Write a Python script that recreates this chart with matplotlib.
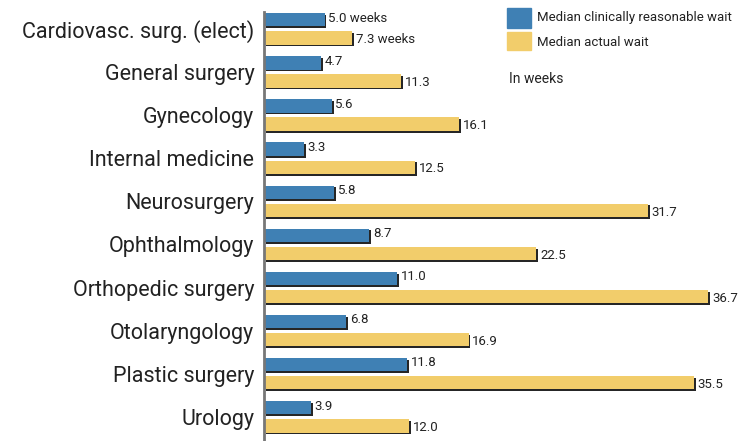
import matplotlib.pyplot as plt
import matplotlib.patheffects as pe
import numpy as np

# data
categories = ["Cardiovasc. surg. (elect)", "General surgery", "Gynecology",
              "Internal medicine", "Neurosurgery", "Ophthalmology",
              "Orthopedic surgery", "Otolaryngology", "Plastic surgery", "Urology"]
reasonable = [5.0, 4.7, 5.6, 3.3, 5.8, 8.7, 11.0, 6.8, 11.8, 3.9]
actual = [7.3, 11.3, 16.1, 12.5, 31.7, 22.5, 36.7, 16.9, 35.5, 12.0]

BLUE = "#3f80b4"
YELLOW = "#f2cd6b"
TXT = "#222222"
FONT = ["Roboto", "DejaVu Sans"]

fig = plt.figure(figsize=(7.46, 4.41), dpi=100)
ax = fig.add_axes([264 / 746, 0, 1 - 264 / 746, 1 - 12 / 441])

y = np.arange(len(categories))
off = 0.21
h = 0.31
shadow = [pe.SimplePatchShadow(offset=(1.3, -1.3), shadow_rgbFace="black", alpha=0.85), pe.Normal()]

ax.barh(y - off, reasonable, height=h, color=BLUE, path_effects=shadow)
ax.barh(y + off, actual, height=h, color=YELLOW, path_effects=shadow)

for i in range(len(categories)):
    s1 = f"{reasonable[i]:.1f}" + (" weeks" if i == 0 else "")
    s2 = f"{actual[i]:.1f}" + (" weeks" if i == 0 else "")
    ax.text(reasonable[i] + 0.3, y[i] - off - 0.04, s1, va="center", ha="left",
            fontsize=9.5, family=FONT, color=TXT)
    ax.text(actual[i] + 0.3, y[i] + off + 0.04, s2, va="center", ha="left",
            fontsize=9.5, family=FONT, color=TXT)

ax.set_xlim(0, 39.8)
ax.set_ylim(9.56, -0.39)
ax.set_yticks(y)
ax.set_yticklabels(categories, fontsize=15.5, family=FONT, color=TXT)
ax.tick_params(axis="y", length=0, pad=7)
ax.set_xticks([])
for s in ["top", "right", "bottom"]:
    ax.spines[s].set_visible(False)
ax.spines["left"].set_color("#777777")
ax.spines["left"].set_linewidth(2)

# legend drawn by hand
fig.patches.append(plt.Rectangle((507 / 746, 1 - 28 / 441), 24 / 746, 20 / 441,
                                 transform=fig.transFigure, color=BLUE))
fig.patches.append(plt.Rectangle((507 / 746, 1 - 50 / 441), 24 / 746, 18 / 441,
                                 transform=fig.transFigure, color=YELLOW))
fig.text(537 / 746, 1 - 18 / 441, "Median clinically reasonable wait", va="center",
         fontsize=9.5, family=FONT, color=TXT)
fig.text(537 / 746, 1 - 42 / 441, "Median actual wait", va="center",
         fontsize=9.5, family=FONT, color=TXT)
fig.text(509 / 746, 1 - 79 / 441, "In weeks", va="center",
         fontsize=10, family=FONT, color=TXT)

fig.savefig("out.png", dpi=100)
